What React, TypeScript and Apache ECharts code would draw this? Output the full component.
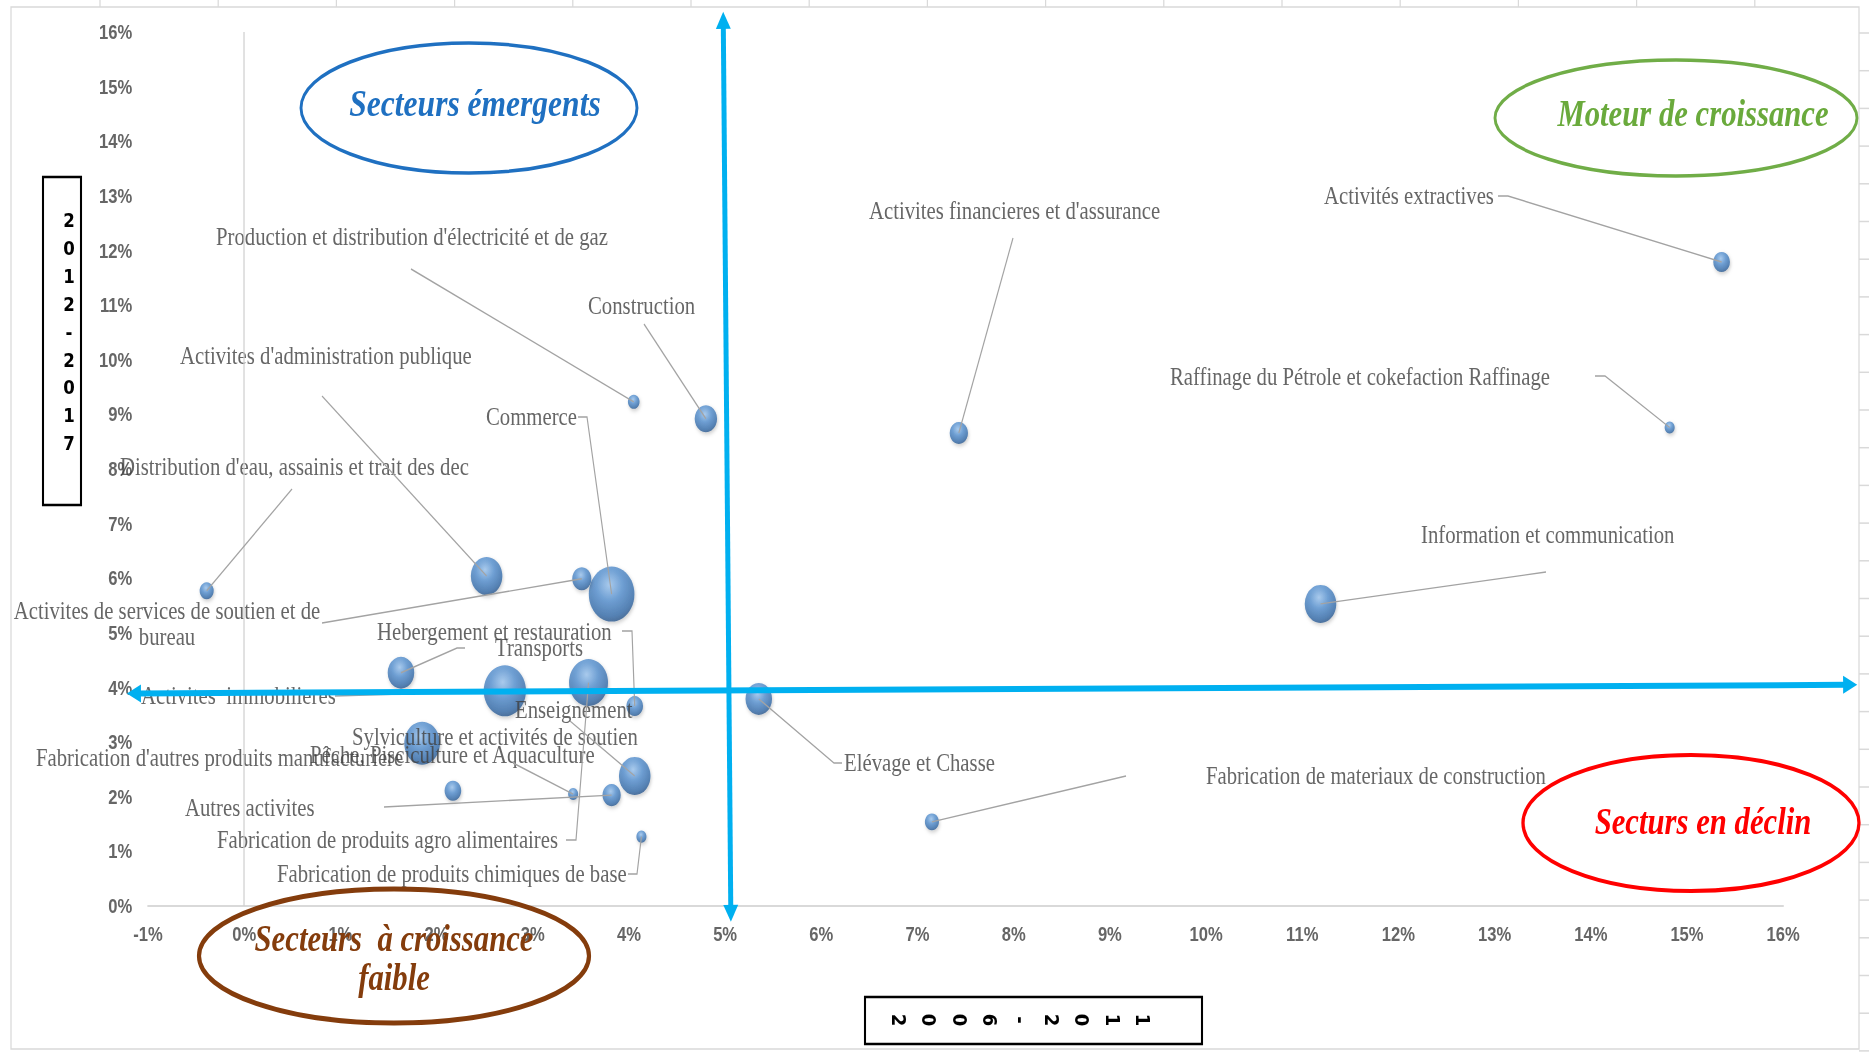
import React, { useEffect, useRef } from "react";
import * as echarts from "echarts";

// The reference picture is horizontally compressed; the chart is drawn wider and squeezed.
const S = 0.83;
const W = 1869;
const H = 1052;
const WP = W / S;
const px = (x: number) => x / S;

const sectors = [
  "Activités extractives",
  "Raffinage du Pétrole et cokefaction Raffinage",
  "Information et communication",
  "Activites financieres et d'assurance",
  "Construction",
  "Production et distribution d'électricité et de gaz",
  "Commerce",
  "Activites d'administration publique",
  "Activites de services de soutien et de bureau",
  "Distribution d'eau, assainis et trait des dec",
  "Transports",
  "Fabrication de produits agro alimentaires",
  "Activites  immobilieres",
  "Hebergement et restauration",
  "Elévage et Chasse",
  "Enseignement",
  "Fabrication d'autres produits manufacturiere",
  "Pêche, Pisciculture et Aquaculture",
  "Sylviculture et activités de soutien",
  "Autres activites",
  "Fabrication de produits chimiques de base",
  "Fabrication de materiaux de construction",
];

// croissance 2006-2011 (%)
const growth2006_2011 = [
  15.36, 14.82, 11.19, 7.43, 4.8, 4.05, 3.82, 2.52, 3.51, -0.39, 1.63, 3.58,
  2.71, 4.06, 5.35, 4.06, 1.85, 3.42, 2.17, 3.82, 4.13, 7.15,
];
// croissance 2012-2017 (%)
const growth2012_2017 = [
  11.79, 8.76, 5.53, 8.66, 8.92, 9.23, 5.71, 6.04, 5.99, 5.77, 4.27, 4.09,
  3.94, 3.66, 3.79, 2.38, 2.98, 2.05, 2.11, 2.03, 1.27, 1.54,
];
// poids (taille des bulles)
const weights = [
  6.3, 2.3, 22.6, 7.6, 11.4, 3.1, 47.3, 22.6, 8.3, 4.5, 16.0, 34.5, 40.6, 6.3,
  16.0, 22.6, 28.9, 2.3, 6.3, 7.6, 2.3, 4.5,
];

const xRange = [-1, 16];
const yRange = [0, 16];

// quadrant separators (data coordinates)
const verticalArrow = [
  [4.98, 16.37],
  [5.06, -0.29],
];
const horizontalArrow = [
  [-1.22, 3.89],
  [16.77, 4.05],
];

const yTitle = "2012-2017";
const xTitle = "2006-2011";

// label placement (screen px of the reference) and leader-line bends
type LL = { x: number; y: number; align?: string; guide?: number[][]; breakAt?: string };
const labelLayouts: LL[] = [
  { x: 1324, y: 196, guide: [[1508, 196], [1498, 196]] },
  { x: 1170, y: 377, guide: [[1605, 376], [1595, 376]] },
  { x: 1421, y: 535, guide: [[1546, 572]] },
  { x: 869, y: 211, guide: [[1013, 238]] },
  { x: 588, y: 306, guide: [[644, 324]] },
  { x: 216, y: 237, guide: [[411, 269]] },
  { x: 486, y: 417, guide: [[587, 417], [578, 417]] },
  { x: 180, y: 356, guide: [[322, 396]] },
  { x: 167, y: 624, align: "center", guide: [[322, 623]], breakAt: " bureau" },
  { x: 120, y: 467, guide: [[292, 489]] },
  { x: 495, y: 648, guide: [[457, 648], [465, 648]] },
  { x: 217, y: 840, guide: [[576, 840], [566, 840]] },
  { x: 141, y: 696, guide: [[335, 696]] },
  { x: 377, y: 632, guide: [[632, 631], [622, 631]] },
  { x: 844, y: 763, guide: [[834, 763], [842, 763]] },
  { x: 515, y: 710, guide: [[570, 721]] },
  { x: 36, y: 758 },
  { x: 310, y: 755, guide: [[513, 763]] },
  { x: 352, y: 737 },
  { x: 185, y: 808, guide: [[384, 807]] },
  { x: 277, y: 874, guide: [[637, 874], [628, 874]] },
  { x: 1206, y: 776, guide: [[1126, 776]] },
];

const SERIF = "'Liberation Serif', 'Times New Roman', serif";
const SANS = "'Liberation Sans', Arial, sans-serif";

export default function App() {
  const ref = useRef<HTMLDivElement>(null);

  useEffect(() => {
    const chart = echarts.init(ref.current as HTMLDivElement, null, { renderer: "svg" });

    const data = sectors.map((name, i) => ({
      name,
      value: [growth2006_2011[i], growth2012_2017[i], weights[i]],
    }));

    const axisLabel = {
      formatter: (v: number) => `${v}%`,
      color: "#666666",
      fontFamily: SANS,
      fontWeight: "bold",
      fontSize: 20,
    };

    chart.setOption({
      animation: false,
      backgroundColor: "#ffffff",
      grid: {
        left: px(148),
        right: WP - px(1783),
        top: 32,
        bottom: H - 906,
        containLabel: false,
      },
      xAxis: {
        type: "value",
        min: xRange[0],
        max: xRange[1],
        interval: 1,
        axisLine: { show: true, onZero: false, lineStyle: { color: "#d9d9d9", width: 2 } },
        axisTick: { show: false },
        splitLine: { show: false },
        axisLabel: { ...axisLabel, margin: 18 },
      },
      yAxis: {
        type: "value",
        min: yRange[0],
        max: yRange[1],
        interval: 1,
        axisLine: { show: false },
        axisTick: { show: false },
        splitLine: { show: false },
        axisLabel: { ...axisLabel, margin: 19 },
      },
      series: [
        {
          type: "scatter",
          data,
          symbol: "circle",
          symbolSize: (val: number[]) => 8 * Math.sqrt(val[2]),
          itemStyle: {
            color: {
              type: "radial",
              x: 0.45,
              y: 0.33,
              r: 0.72,
              colorStops: [
                { offset: 0, color: "#9cc4ee" },
                { offset: 0.4, color: "#5590cf" },
                { offset: 0.8, color: "#356ba8" },
                { offset: 1, color: "#274f7f" },
              ],
            },
            shadowBlur: 4,
            shadowColor: "rgba(0,0,0,0.25)",
            shadowOffsetX: 1,
            shadowOffsetY: 2,
          },
          label: {
            show: true,
            formatter: (p: any) => {
              const L = labelLayouts[p.dataIndex];
              return L && L.breakAt ? p.name.replace(L.breakAt, "\n" + L.breakAt.trim()) : p.name;
            },
            fontFamily: SERIF,
            fontSize: 25,
            lineHeight: 26,
            color: "#404040",
          },
          labelLine: { show: false },
          labelLayout: (p: any) => {
            const L = labelLayouts[p.dataIndex];
            return {
              x: px(L.x),
              y: L.y,
              align: L.align || "left",
              verticalAlign: "middle",
            };
          },
          markLine: {
            silent: true,
            symbol: ["none", "none"],
            label: { show: false },
            lineStyle: { color: "#d0d0d0", width: 1.5, type: "solid" },
            data: [[{ coord: [0, yRange[0]] }, { coord: [0, yRange[1]] }]],
          },
          z: 2,
        },
      ],
    });

    const toPx = (x: number, y: number) =>
      chart.convertToPixel({ gridIndex: 0 } as any, [x, y]) as unknown as number[];

    const graphics: any[] = [];

    // outer frame of the chart and spreadsheet gridline stubs
    graphics.push({
      type: "rect",
      silent: true,
      z: 0,
      shape: { x: px(11), y: 7, width: px(1848), height: 1042 },
      style: { fill: "none", stroke: "#d9d9d9", lineWidth: 1.5 },
    });
    for (let k = 0; k < 15; k++) {
      const x = px(100 + 118.2 * k);
      graphics.push({
        type: "line",
        silent: true,
        shape: { x1: x, y1: 0, x2: x, y2: 7 },
        style: { stroke: "#d9d9d9", lineWidth: 1.5 },
      });
    }
    for (let k = 0; k < 28; k++) {
      const y = 33 + 37.7 * k;
      graphics.push({
        type: "line",
        silent: true,
        shape: { x1: px(1859), y1: y, x2: px(1869), y2: y },
        style: { stroke: "#d9d9d9", lineWidth: 1.5 },
      });
    }

    // leader lines
    labelLayouts.forEach((L, i) => {
      if (!L.guide) return;
      const c = toPx(growth2006_2011[i], growth2012_2017[i]);
      const pts = [c, ...L.guide.map(([gx, gy]) => [px(gx), gy])];
      graphics.push({
        type: "polyline",
        silent: true,
        z: 5,
        shape: { points: pts },
        style: { stroke: "#a3a3a3", lineWidth: 1.4, fill: null },
      });
    });

    // quadrant arrows
    const arrow = (seg: number[][]) => {
      const a = toPx(seg[0][0], seg[0][1]);
      const b = toPx(seg[1][0], seg[1][1]);
      const dx = b[0] - a[0];
      const dy = b[1] - a[1];
      const len = Math.hypot(dx, dy);
      const ux = dx / len;
      const uy = dy / len;
      const nx = -uy;
      const ny = ux;
      const L = 17;
      const hw = 9;
      const color = "#00b0f0";
      const head = (tip: number[], dir: number) => {
        const bx = tip[0] - dir * ux * L;
        const by = tip[1] - dir * uy * L;
        return {
          type: "polygon",
          silent: true,
          z: 10,
          shape: {
            points: [
              tip,
              [bx + nx * hw, by + ny * hw],
              [bx - nx * hw, by - ny * hw],
            ],
          },
          style: { fill: color },
        };
      };
      graphics.push({
        type: "line",
        silent: true,
        z: 10,
        shape: {
          x1: a[0] + ux * L * 0.8,
          y1: a[1] + uy * L * 0.8,
          x2: b[0] - ux * L * 0.8,
          y2: b[1] - uy * L * 0.8,
        },
        style: { stroke: color, lineWidth: 6 },
      });
      graphics.push(head(b, 1));
      graphics.push(head(a, -1));
    };
    arrow(verticalArrow);
    arrow(horizontalArrow);

    // axis titles in boxes
    graphics.push({
      type: "rect",
      silent: true,
      z: 15,
      shape: { x: px(43), y: 177, width: px(38), height: 328 },
      style: { fill: "#ffffff", stroke: "#000000", lineWidth: 2.5 },
    });
    yTitle.split("").forEach((ch, k) => {
      graphics.push({
        type: "text",
        silent: true,
        z: 16,
        x: px(69),
        y: 220 + 27.9 * k,
        style: {
          text: ch,
          fontFamily: "'DejaVu Sans', sans-serif",
          fontWeight: "bold",
          fontSize: 20,
          fill: "#000000",
          align: "center",
          verticalAlign: "middle",
        },
      });
    });
    graphics.push({
      type: "rect",
      silent: true,
      z: 15,
      shape: { x: px(865), y: 997, width: px(337), height: 47 },
      style: { fill: "#ffffff", stroke: "#000000", lineWidth: 2.5 },
    });
    xTitle.split("").forEach((ch, k) => {
      graphics.push({
        type: "text",
        silent: true,
        z: 16,
        x: px(899 + 30.6 * k),
        y: 1020,
        rotation: -Math.PI / 2,
        scaleX: 0.75,
        style: {
          text: ch,
          fontFamily: "'DejaVu Sans', sans-serif",
          fontWeight: "bold",
          fontSize: 24,
          fill: "#000000",
          align: "center",
          verticalAlign: "middle",
        },
      });
    });

    // quadrant names
    const quad = (
      cx: number, cy: number, rx: number, ry: number, stroke: string, lw: number,
      text: string, tx: number, ty: number, color: string, fs: number
    ) => {
      graphics.push({
        type: "ellipse",
        silent: true,
        z: 20,
        shape: { cx: px(cx), cy, rx: px(rx), ry },
        style: { fill: "none", stroke, lineWidth: lw },
      });
      graphics.push({
        type: "text",
        silent: true,
        z: 21,
        x: px(tx),
        y: ty,
        style: {
          text,
          fontFamily: SERIF,
          fontStyle: "italic",
          fontWeight: "bold",
          fontSize: fs,
          lineHeight: 39,
          fill: color,
          align: "center",
          verticalAlign: "middle",
        },
      });
    };
    quad(469, 108, 168, 65, "#1f70c1", 3.5, "Secteurs émergents", 475, 103, "#1f70c1", 38);
    quad(1676, 118, 181, 58, "#70ad47", 3.5, "Moteur de croissance", 1693, 113, "#6aaa3c", 37);
    quad(1691, 823, 168, 68, "#ff0000", 4, "Secturs en déclin", 1703, 821, "#ff0000", 37);
    quad(394, 956, 195, 67, "#843c0c", 5, "Secteurs  à croissance\nfaible", 394, 958, "#843c0c", 37);

    chart.setOption({ graphic: graphics });

    return () => chart.dispose();
  }, []);

  return (
    <div
      style={{
        position: "fixed",
        left: 0,
        top: 0,
        width: W,
        height: H,
        overflow: "hidden",
        background: "#ffffff",
      }}
    >
      <div
        ref={ref}
        style={{
          width: WP,
          height: H,
          transform: `scaleX(${S})`,
          transformOrigin: "0 0",
        }}
      />
    </div>
  );
}
